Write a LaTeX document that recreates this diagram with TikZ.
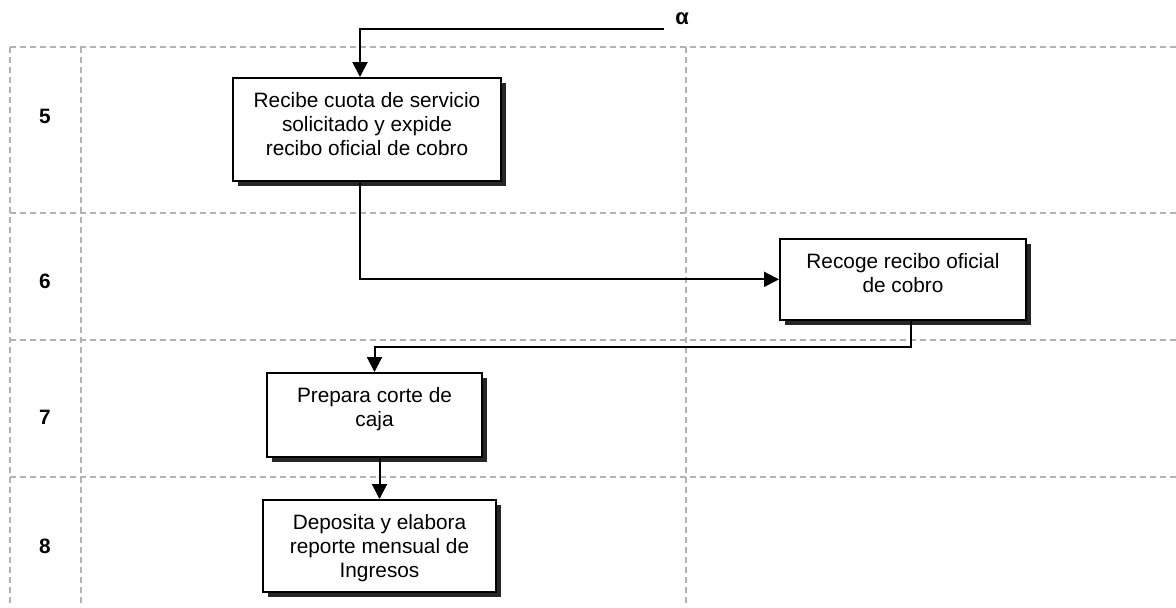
\documentclass[tikz,border=0pt]{standalone}
\usepackage{fontspec}
\setmainfont{Liberation Sans}
\usetikzlibrary{arrows.meta, shadows}

\begin{document}
\begin{tikzpicture}[x=0.5pt,y=-0.5pt,font=\fontsize{10.4}{12}\selectfont]
            \useasboundingbox (0,0) rectangle (1176,607);

            % rejilla de filas
            \begin{scope}[draw=gray!60, densely dashed, line width=0.6pt]
                \foreach \y in {47,213,340,477}
                    \draw (10,\y) -- (1176,\y);
                \foreach \x in {10,81,686}
                    \draw (\x,47) -- (\x,607);
            \end{scope}

            \begin{scope}[every node/.style={font=\fontsize{10.4}{12}\selectfont\bfseries}]
                \node (n5) at (45,116) {5};
                \node (n6) at (45,281) {6};
                \node (n7) at (45,417) {7};
                \node (n8) at (45,546) {8};
                \node[font=\fontsize{11}{12}\selectfont\bfseries] (a) at (682,19) {α};
            \end{scope}

            \begin{scope}[every node/.style={draw,line width=1pt,fill=white,align=center,
                              anchor=north,inner xsep=2pt,inner ysep=7.3pt,
                              general shadow={fill=black!85,shadow xshift=2.5pt,shadow yshift=-2.5pt}}]
                \node[minimum width=134pt,text depth=5.2pt] (R) at (367,77)
                    {Recibe cuota de servicio\\solicitado y expide\\recibo oficial de cobro};
                \node[minimum width=123pt,text depth=6.2pt] (C) at (903,238)
                    {Recoge recibo oficial\\de cobro};
                \node[minimum width=107.5pt,text depth=7.7pt] (P) at (374.5,372)
                    {Prepara corte de\\caja};
                \node[minimum width=116.5pt,text depth=0pt] (D) at (379.5,499)
                    {Deposita y elabora\\reporte mensual de\\Ingresos};
            \end{scope}

            \coordinate (a0) at (664,29);
            \coordinate (k6) at (911,347);

            \begin{scope}[>={Triangle[length=7.5pt,width=7.5pt]}, line width=1pt]
                \draw[->] (a0) -| ([xshift=-3.5pt]R.north);
                \draw[->] ([xshift=-3.5pt]R.south) |- (C.west);
                \draw[->] (C.south -| k6) |- (k6) -| (P.north);
                \draw[->] (P.south -| D.north) -- (D.north);
                %\draw[->] (D.south) -- ++(0,20);
            \end{scope}

\end{tikzpicture}
\end{document}
